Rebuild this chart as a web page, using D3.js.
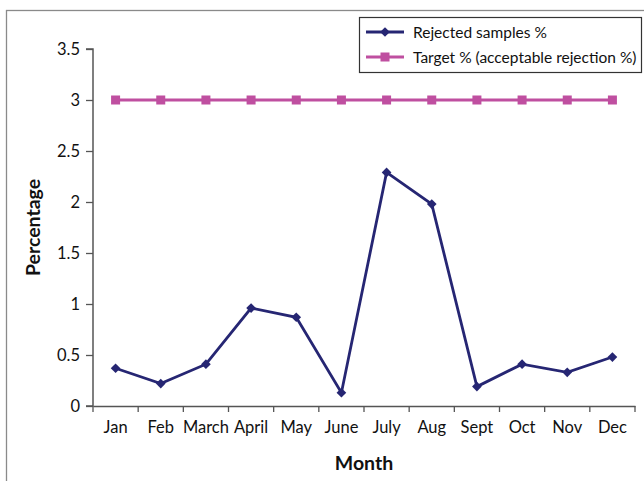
<!DOCTYPE html>
<html><head><meta charset="utf-8">
<script src="https://cdn.jsdelivr.net/npm/d3@7"></script>
<style>body{margin:0;background:#fff}svg{display:block}text{font-family:Lato,"Open Sans",sans-serif;fill:#111}</style>
</head><body><svg id="c" width="644" height="481"></svg>
<script>
const months = ["Jan","Feb","March","April","May","June","July","Aug","Sept","Oct","Nov","Dec"];
const rejected = [0.37,0.22,0.41,0.96,0.87,0.13,2.29,1.98,0.19,0.41,0.33,0.48];
const target = [3,3,3,3,3,3,3,3,3,3,3,3];
const yTicks = [0,0.5,1,1.5,2,2.5,3,3.5];
const seriesNames = ["Rejected samples %","Target % (acceptable rejection %)"];
const colors = ["#262673","#bf4fa0"];

const svg = d3.select("#c");
svg.append("rect").attr("x",6.5).attr("y",10.5).attr("width",660).attr("height",500)
  .attr("fill","none").attr("stroke","#8a8a8a").attr("stroke-width",1.3);

const L=93, R=635, T=49, B=406;
const x = d3.scaleBand().domain(months).range([L,R]);
const y = d3.scaleLinear().domain([0,3.5]).range([B,T]);

const xAxis = svg.append("g").attr("transform",`translate(0,${B})`)
  .call(d3.axisBottom(x).tickSize(0).tickPadding(15));
xAxis.select(".domain").attr("stroke","#555").attr("stroke-width",1.5);
xAxis.selectAll("text").attr("font-size",16.5);
// boundary ticks
xAxis.selectAll(".bt").data(d3.range(13)).join("line").attr("class","bt")
  .attr("x1",i=>L+i*x.step()).attr("x2",i=>L+i*x.step()).attr("y1",0).attr("y2",6)
  .attr("stroke","#555").attr("stroke-width",1.3);

const yAxis = svg.append("g").attr("transform",`translate(${L},0)`)
  .call(d3.axisLeft(y).tickValues(yTicks).tickSize(7).tickPadding(6).tickFormat(d=>String(d)));
yAxis.select(".domain").attr("stroke","#555").attr("stroke-width",1.5).attr("d",`M-7,${T}H0V${B}H-7`);
yAxis.selectAll("line").attr("stroke","#555").attr("stroke-width",1.3);
yAxis.selectAll("text").attr("font-size",16.5);

svg.append("text").attr("transform",`translate(40,${(T+B)/2}) rotate(-90)`).attr("text-anchor","middle")
  .attr("font-size",19.5).attr("font-weight","bold").text("Percentage");
svg.append("text").attr("x",(L+R)/2).attr("y",470).attr("text-anchor","middle")
  .attr("font-size",19.5).attr("font-weight","bold").text("Month");

const cx = m => x(m)+x.bandwidth()/2;
const line = d3.line().x((d,i)=>cx(months[i])).y(d=>y(d));

svg.append("path").datum(target).attr("d",line).attr("fill","none").attr("stroke",colors[1]).attr("stroke-width",3);
svg.selectAll(".sq").data(target).join("rect").attr("class","sq")
  .attr("x",(d,i)=>cx(months[i])-4.5).attr("y",d=>y(d)-4.5).attr("width",9).attr("height",9).attr("fill",colors[1]);

svg.append("path").datum(rejected).attr("d",line).attr("fill","none").attr("stroke",colors[0]).attr("stroke-width",2.8);
svg.selectAll(".dm").data(rejected).join("path").attr("class","dm")
  .attr("d",d3.symbol(d3.symbolDiamond2,60))
  .attr("transform",(d,i)=>`translate(${cx(months[i])},${y(d)})`).attr("fill",colors[0]);

// legend
const lg = svg.append("g");
lg.append("rect").attr("x",359.5).attr("y",17.5).attr("width",282).attr("height",55).attr("fill","#fff").attr("stroke","#333").attr("stroke-width",1.2);
seriesNames.forEach((n,i)=>{
  const yy = 32+i*25;
  lg.append("line").attr("x1",366).attr("x2",404).attr("y1",yy).attr("y2",yy).attr("stroke",colors[i]).attr("stroke-width",i?3:2.8);
  if(i===0) lg.append("path").attr("d",d3.symbol(d3.symbolDiamond2,60)).attr("transform",`translate(385,${yy})`).attr("fill",colors[0]);
  else lg.append("rect").attr("x",380.5).attr("y",yy-4.5).attr("width",9).attr("height",9).attr("fill",colors[1]);
  lg.append("text").attr("x",413).attr("y",yy+5.5).attr("font-size",15.5).text(n);
});
</script></body></html>
